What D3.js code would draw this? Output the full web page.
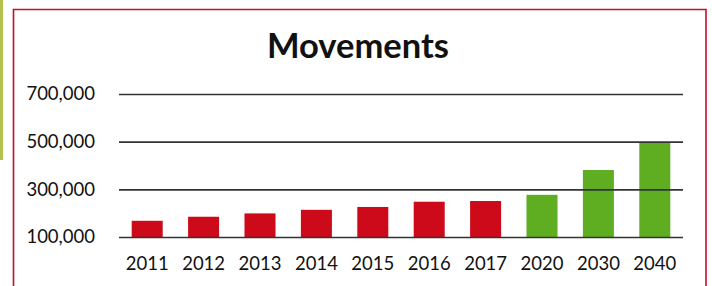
<!DOCTYPE html>
<html>
<head>
<meta charset="utf-8">
<script src="https://cdn.jsdelivr.net/npm/d3@7"></script>
<style>
  html, body { margin: 0; padding: 0; background: #fff; }
  svg { display: block; }
</style>
</head>
<body>
<svg id="chart"></svg>
<script>
const years = ['2011', '2012', '2013', '2014', '2015', '2016', '2017', '2020', '2030', '2040'];
const movements = [168000, 185000, 199000, 214000, 226000, 248000, 251000, 277000, 381000, 496000];
const forecast = [false, false, false, false, false, false, false, true, true, true];
const yTicks = [100000, 300000, 500000, 700000];

const width = 712,
  height = 286,
  margin = {
    top: 94,
    right: 29,
    bottom: 49,
    left: 119
  };

const svg = d3.select('#chart')
  .attr('width', width)
  .attr('height', height);

// scan edge on the left
svg.append('rect')
  .attr('x', 0).attr('y', 0)
  .attr('width', 3).attr('height', 160)
  .attr('fill', '#b3c24f');

// red frame, bottom edge is cut off
svg.append('path')
  .attr('d', 'M13.5,' + height + 'V9.5H706V' + height)
  .attr('fill', 'none')
  .attr('stroke', '#c20f2a')
  .attr('stroke-width', 1.6);

svg.append('text')
  .attr('x', 358)
  .attr('y', 58)
  .attr('text-anchor', 'middle')
  .style('font-family', 'Lato, "Open Sans", sans-serif')
  .style('font-weight', 'bold')
  .style('font-size', '34.5px')
  .attr('fill', '#111')
  .text('Movements');

const x = d3.scaleBand()
  .domain(years)
  .range([margin.left, width - margin.right])
  .paddingInner(0.45)
  .paddingOuter(0.225);

const y = d3.scaleLinear()
  .domain([100000, 700000])
  .range([height - margin.bottom, margin.top]);

const data = years.map((yr, i) => ({year: yr, value: movements[i], forecast: forecast[i]}));

svg.append('g')
  .selectAll('rect.bar')
  .data(data)
  .enter()
  .append('rect')
  .attr('class', 'bar')
  .attr('x', d => x(d.year))
  .attr('width', x.bandwidth())
  .attr('y', d => y(d.value))
  .attr('height', d => y(100000) - y(d.value))
  .attr('fill', d => d.forecast ? '#5fae22' : '#cc0a1a');

// gridlines + y labels
const yAxis = svg.append('g')
  .attr('transform', 'translate(' + margin.left + ',0)')
  .call(d3.axisLeft(y)
    .tickValues(yTicks)
    .tickSize(-(width - margin.left - margin.right))
    .tickPadding(24)
    .tickFormat(d3.format(',')));

yAxis.select('.domain').remove();
yAxis.selectAll('.tick line')
  .attr('stroke', '#333')
  .attr('stroke-width', 1.6);
yAxis.selectAll('.tick text')
  .style('font-family', 'Lato, "Open Sans", sans-serif')
  .style('font-size', '18.5px')
  .attr('fill', '#111');

const xAxis = svg.append('g')
  .attr('transform', 'translate(0,' + y(100000) + ')')
  .call(d3.axisBottom(x).tickSize(0).tickPadding(20));

xAxis.select('.domain').remove();
xAxis.selectAll('.tick text')
  .style('font-family', 'Lato, "Open Sans", sans-serif')
  .style('font-size', '18.5px')
  .attr('fill', '#111');
</script>
</body>
</html>
